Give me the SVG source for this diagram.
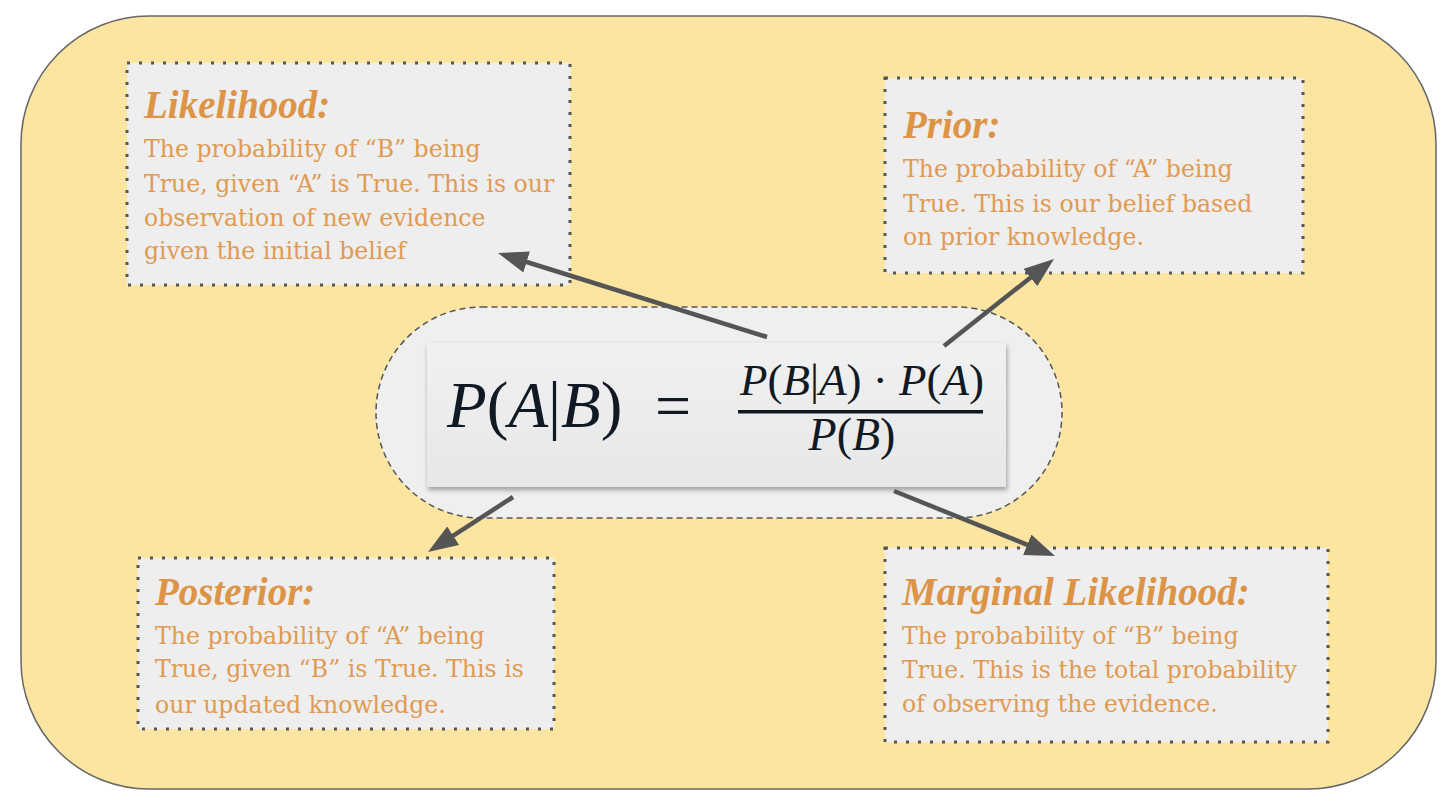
<svg xmlns="http://www.w3.org/2000/svg" width="1456" height="804" viewBox="0 0 1456 804">
<defs>
<style>
.card{fill:#eeeeee;stroke:#555555;stroke-width:3;stroke-dasharray:3 9;}
.title{font-family:"Liberation Serif",serif;font-weight:bold;font-style:italic;font-size:39px;fill:#dd9446;}
.body{font-family:"DejaVu Serif","Liberation Serif",serif;font-size:23.6px;fill:#e09a52;}
.math{font-family:"Liberation Serif","Times New Roman",serif;fill:#111a24;}
.it{font-style:italic;}
.arrow{stroke:#555555;stroke-width:4.5;fill:none;marker-end:url(#head);}
</style>
<marker id="head" viewBox="0 0 30 22" markerWidth="30" markerHeight="22" markerUnits="userSpaceOnUse" refX="10" refY="11" orient="auto">
<path d="M0,0 L30,11 L0,22 z" fill="#555555"/>
</marker>
<linearGradient id="fgrad" x1="0" y1="0" x2="0" y2="1">
<stop offset="0" stop-color="#f1f1f1"/>
<stop offset="1" stop-color="#e7e7e7"/>
</linearGradient>
<filter id="shadow" x="-5%" y="-10%" width="110%" height="125%">
<feDropShadow dx="1" dy="3" stdDeviation="2.5" flood-color="#000" flood-opacity="0.35"/>
</filter>
</defs>
<rect id="background" x="21" y="16" width="1415" height="773" rx="128" ry="128" fill="#fce5a1" stroke="#666666" stroke-width="1.5"/>
<g id="formula">
<rect x="376" y="307" width="686" height="211" rx="105.5" ry="105.5" fill="#efefef" stroke="#555555" stroke-width="1.5" stroke-dasharray="6 4"/>
<rect x="427" y="343" width="579" height="144" fill="url(#fgrad)" filter="url(#shadow)"/>
<text class="math" x="447" y="427" font-size="65"><tspan class="it">P</tspan>(<tspan class="it">A</tspan>|<tspan class="it">B</tspan>)</text>
<text class="math" x="655" y="427" font-size="64">=</text>
<text class="math" x="740" y="395" font-size="45"><tspan class="it">P</tspan>(<tspan class="it">B</tspan>|<tspan class="it">A</tspan>) · <tspan class="it">P</tspan>(<tspan class="it">A</tspan>)</text>
<rect x="738" y="410" width="245" height="3.5" fill="#111a24"/>
<text class="math" x="852" y="450" font-size="46" text-anchor="middle"><tspan class="it">P</tspan>(<tspan class="it">B</tspan>)</text>
</g>
<g id="likelihood">
<rect class="card" x="127" y="63" width="443" height="222"/>
<text class="title" x="144" y="118">Likelihood:</text>
<text class="body" x="144" y="157">The probability of “B” being</text>
<text class="body" x="144" y="192">True, given “A” is True. This is our</text>
<text class="body" x="144" y="226">observation of new evidence</text>
<text class="body" x="144" y="259">given the initial belief</text>
</g>
<g id="prior">
<rect class="card" x="885" y="78" width="418" height="195"/>
<text class="title" x="903" y="138">Prior:</text>
<text class="body" x="903" y="177">The probability of “A” being</text>
<text class="body" x="903" y="212">True. This is our belief based</text>
<text class="body" x="903" y="245">on prior knowledge.</text>
</g>
<g id="posterior">
<rect class="card" x="138" y="558" width="416" height="171"/>
<text class="title" x="155" y="605">Posterior:</text>
<text class="body" x="155" y="644">The probability of “A” being</text>
<text class="body" x="155" y="677">True, given “B” is True. This is</text>
<text class="body" x="155" y="713">our updated knowledge.</text>
</g>
<g id="marginal">
<rect class="card" x="885" y="548" width="443" height="194"/>
<text class="title" x="902" y="605">Marginal Likelihood:</text>
<text class="body" x="902" y="644">The probability of “B” being</text>
<text class="body" x="902" y="678">True. This is the total probability</text>
<text class="body" x="902" y="712">of observing the evidence.</text>
</g>
<g id="connectors">
<line class="arrow" x1="767" y1="337" x2="517.1" y2="259"/>
<line class="arrow" x1="944" y1="346" x2="1038.3" y2="271.4"/>
<line class="arrow" x1="513" y1="497" x2="444.8" y2="541.1"/>
<line class="arrow" x1="894" y1="491" x2="1036.5" y2="548.5"/>
</g>
</svg>
